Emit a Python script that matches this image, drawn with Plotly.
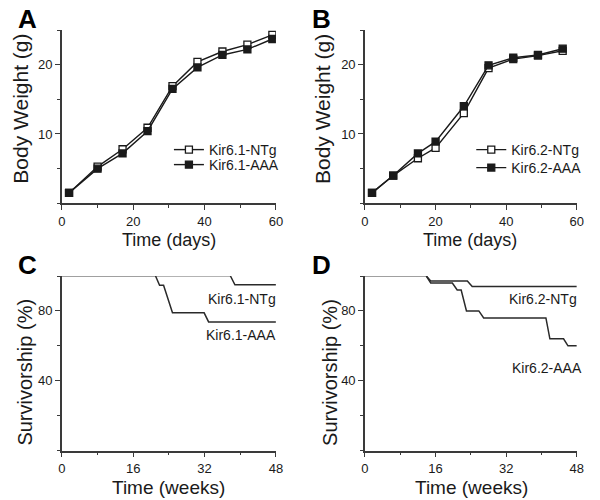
import plotly.graph_objects as go

# ---------------- data ----------------
# Panel A: body weight, Kir6.1 lines
days_a = [2, 10, 17, 24, 31, 38, 45, 52, 59]
ntg_a = [1.5, 5.3, 7.8, 10.9, 16.9, 20.4, 21.9, 22.9, 24.3]
aaa_a = [1.5, 5.0, 7.2, 10.4, 16.5, 19.6, 21.4, 22.2, 23.7]

# Panel B: body weight, Kir6.2 lines
days_b = [2, 8, 15, 20, 28, 35, 42, 49, 56]
ntg_b = [1.5, 4.0, 6.5, 8.0, 13.0, 19.5, 20.8, 21.3, 22.0]
aaa_b = [1.5, 4.0, 7.2, 8.9, 14.0, 19.9, 21.0, 21.4, 22.3]

# Panel C: survivorship, Kir6.1 lines
wk_c_ntg = [0, 37.8, 38.8, 48]
surv_c_ntg = [100, 100, 95.0, 95.0]
wk_c_aaa = [0, 21.0, 21.9, 22.8, 24.8, 31.9, 32.9, 48]
surv_c_aaa = [100, 100, 94.7, 94.7, 78.9, 78.9, 73.7, 73.7]

# Panel D: survivorship, Kir6.2 lines
wk_d_ntg = [0, 13.9, 14.9, 23.2, 24.3, 48]
surv_d_ntg = [100, 100, 97.2, 97.2, 94.0, 94.0]
wk_d_aaa = [0, 13.9, 14.9, 19.8, 20.9, 21.8, 23.0, 25.8, 26.9, 41.0, 41.9, 45.0, 46.0, 48]
surv_d_aaa = [100, 100, 96.0, 96.0, 92.0, 92.0, 80.0, 80.0, 76.0, 76.0, 64.0, 64.0, 60.0, 60.0]

weight_ticks = [10, 20]
day_ticks = [0, 20, 40, 60]
surv_ticks = [40, 80]
week_ticks = [0, 16, 32, 48]

# ---------------- figure ----------------
FONT = "Liberation Sans, Arial, sans-serif"
INK = "#1a1a1a"
AX = "#3a3a3a"

fig = go.Figure()

def add_weight(x, y, name, filled, xa, ya, legend):
    fig.add_trace(go.Scatter(
        x=x, y=y, name=name, mode="lines+markers",
        line=dict(color=INK, width=1.4),
        marker=dict(symbol="square", size=7,
                    color=INK if filled else "white",
                    line=dict(color=INK, width=1.3)),
        xaxis=xa, yaxis=ya, legend=legend))

add_weight(days_a, ntg_a, "Kir6.1-NTg", False, "x", "y", "legend")
add_weight(days_a, aaa_a, "Kir6.1-AAA", True, "x", "y", "legend2")
add_weight(days_b, ntg_b, "Kir6.2-NTg", False, "x2", "y2", "legend3")
add_weight(days_b, aaa_b, "Kir6.2-AAA", True, "x2", "y2", "legend4")

def add_surv(t, s, name, xa, ya):
    # initial 100 % plateau (rendered lighter, as in the original)
    fig.add_trace(go.Scatter(
        x=t[:2], y=s[:2], name=name, mode="lines", showlegend=False,
        line=dict(color="#9a9a9a", width=1.5),
        xaxis=xa, yaxis=ya))
    fig.add_trace(go.Scatter(
        x=t[1:], y=s[1:], name=name, mode="lines", showlegend=False,
        line=dict(color="#2a2a2a", width=1.5),
        xaxis=xa, yaxis=ya))

add_surv(wk_c_ntg, surv_c_ntg, "Kir6.1-NTg", "x3", "y3")
add_surv(wk_c_aaa, surv_c_aaa, "Kir6.1-AAA", "x3", "y3")
add_surv(wk_d_ntg, surv_d_ntg, "Kir6.2-NTg", "x4", "y4")
add_surv(wk_d_aaa, surv_d_aaa, "Kir6.2-AAA", "x4", "y4")

W, H = 600, 500
def px(xp):
    return xp / W
def py(yp):
    return 1 - yp / H

def axis_style(rng, tickvals, minor_dtick, domain, anchor):
    return dict(
        range=rng, domain=domain, anchor=anchor,
        tickmode="array", tickvals=tickvals,
        ticks="outside", ticklen=5, tickwidth=1.3, tickcolor=AX,
        minor=dict(tickmode="linear", tick0=0, dtick=minor_dtick, ticks="outside",
                   ticklen=3, tickwidth=1.3, tickcolor=AX, showgrid=False),
        showline=True, linecolor=AX, linewidth=1.5,
        showgrid=False, zeroline=False,
        tickfont=dict(family=FONT, size=13, color=INK),
        fixedrange=True,
    )

xdomA = [px(59), px(277)]
xdomB = [px(367.7), px(583.5)]
ydomTop = [py(203.3), py(30)]
ydomBot = [py(450.5), py(276)]

def legend_box(xl, yc):
    return dict(x=px(xl), y=py(yc), xanchor="left", yanchor="middle",
                bgcolor="rgba(0,0,0,0)", borderwidth=0,
                font=dict(family=FONT, size=14, color=INK))

fig.update_layout(
    width=W, height=H,
    margin=dict(l=0, r=0, t=0, b=0),
    paper_bgcolor="white", plot_bgcolor="white",
    font=dict(family=FONT, color=INK),
    xaxis=axis_style([0, 60], day_ticks, 10, xdomA, "y"),
    yaxis=axis_style([0, 25], weight_ticks, 5, ydomTop, "x"),
    xaxis2=axis_style([0, 60], day_ticks, 10, xdomB, "y2"),
    yaxis2=axis_style([0, 25], weight_ticks, 5, ydomTop, "x2"),
    xaxis3=axis_style([0, 48], week_ticks, 8, xdomA, "y3"),
    yaxis3=axis_style([0, 100], surv_ticks, 20, ydomBot, "x3"),
    xaxis4=axis_style([0, 48], week_ticks, 8, xdomB, "y4"),
    yaxis4=axis_style([0, 100], surv_ticks, 20, ydomBot, "x4"),
    legend=legend_box(168, 150),
    legend2=legend_box(168, 165),
    legend3=legend_box(476, 150),
    legend4=legend_box(476, 168),
    showlegend=True,
)

annotations = []
# panel letters
for letter, xl, yc in [("A", 12, 19), ("B", 312, 19), ("C", 12, 265), ("D", 312, 265)]:
    annotations.append(dict(text=letter, x=px(xl), y=py(yc), xref="paper", yref="paper",
                            xanchor="left", yanchor="middle", showarrow=False,
                            font=dict(family=FONT, size=26, color="black", weight="bold")))
# curve labels in survival panels
for label, xr, yc in [("Kir6.1-NTg", 279, 299), ("Kir6.1-AAA", 279, 335),
                      ("Kir6.2-NTg", 586, 299), ("Kir6.2-AAA", 591, 368)]:
    annotations.append(dict(text=label, x=px(xr), y=py(yc), xref="paper", yref="paper",
                            xanchor="right", yanchor="middle", showarrow=False,
                            font=dict(family=FONT, size=14, color=INK)))
# axis titles
for text, xc, yc, size, angle in [
        ("Time (days)", 168, 240, 18, 0), ("Time (days)", 475, 240, 18, 0),
        ("Time (weeks)", 168, 487, 19, 0), ("Time (weeks)", 476, 487, 19, 0),
        ("Body Weight (g)", 17, 109, 21, -90), ("Body Weight (g)", 325, 109, 21, -90),
        ("Survivorship (%)", 21, 372, 20, -90), ("Survivorship (%)", 332, 372, 20, -90)]:
    annotations.append(dict(text=text, x=px(xc), y=py(yc), xref="paper", yref="paper",
                            xanchor="center", yanchor="middle", showarrow=False,
                            textangle=angle,
                            font=dict(family=FONT, size=size, color=INK)))
fig.update_layout(annotations=annotations)

fig.write_html("out.html",
               config={"displayModeBar": False},
               post_script="document.body.style.margin='0';document.body.style.overflow='hidden';")
